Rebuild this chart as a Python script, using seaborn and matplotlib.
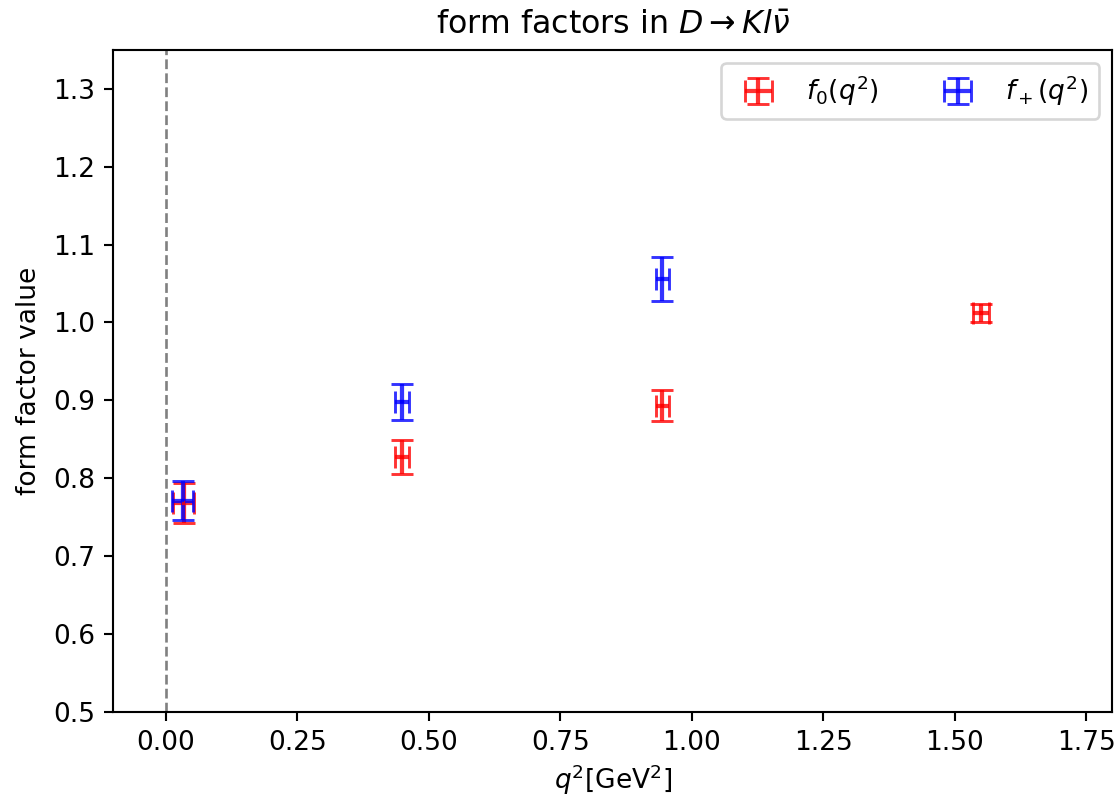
import matplotlib
matplotlib.use("Agg")
import matplotlib.pyplot as plt
import seaborn as sns
import pandas as pd

# scalar form factor f0(q^2)
q2_f0 = [0.034, 0.449, 0.944, 1.551]
q2_f0_err = [0.020, 0.013, 0.012, 0.015]
f0_val = [0.768, 0.827, 0.893, 1.012]
f0_err = [0.026, 0.022, 0.020, 0.012]

# vector form factor f+(q^2)
q2_fp = [0.032, 0.449, 0.944]
q2_fp_err = [0.020, 0.013, 0.012]
fp_val = [0.771, 0.898, 1.056]
fp_err = [0.025, 0.023, 0.028]

labels = [r"$f_0(q^2)$", r"$f_+(q^2)$"]
colors = ["red", "blue"]

sns.set_style("ticks", rc={
    "axes.edgecolor": "black", "text.color": "black",
    "xtick.color": "black", "ytick.color": "black",
    "axes.labelcolor": "black", "axes.grid": False,
})
plt.rcParams["font.family"] = ["DejaVu Sans"]
plt.rcParams["font.size"] = 10

df = pd.concat([
    pd.DataFrame({"q2": q2_f0, "q2err": q2_f0_err, "val": f0_val, "err": f0_err, "ff": labels[0]}),
    pd.DataFrame({"q2": q2_fp, "q2err": q2_fp_err, "val": fp_val, "err": fp_err, "ff": labels[1]}),
], ignore_index=True)

dpi = 190
fig = plt.figure(figsize=(1117 / dpi, 797 / dpi), dpi=dpi)
ax = fig.add_axes([0.1014, 0.107, 0.8944, 0.8303])

ax.axvline(0.0, color="gray", linestyle="--", linewidth=1.0, zorder=1)

for lab, col in zip(labels, colors):
    sub = df[df["ff"] == lab]
    ax.errorbar(sub["q2"], sub["val"], xerr=sub["q2err"], yerr=sub["err"],
                fmt="none", ecolor=col, elinewidth=1.6, capsize=4, capthick=1.1,
                alpha=0.8, label=lab, zorder=3)

sns.scatterplot(data=df, x="q2", y="val", hue="ff", palette=colors, s=1.5,
                marker="s", edgecolor=None, alpha=0.8, legend=False, ax=ax, zorder=4)

ax.set_xlim(-0.1, 1.8)
ax.set_ylim(0.5, 1.35)
ax.set_xticks([0.0, 0.25, 0.5, 0.75, 1.0, 1.25, 1.5, 1.75])
ax.set_yticks([0.5, 0.6, 0.7, 0.8, 0.9, 1.0, 1.1, 1.2, 1.3])
ax.xaxis.set_major_formatter(matplotlib.ticker.FormatStrFormatter("%.2f"))
ax.yaxis.set_major_formatter(matplotlib.ticker.FormatStrFormatter("%.1f"))
ax.tick_params(direction="out", length=3.5, width=0.8, labelsize=10)
for s in ax.spines.values():
    s.set_visible(True)
    s.set_linewidth(0.8)

ax.set_xlabel(r"$q^2$[GeV$^2$]", fontsize=10, labelpad=2.5)
ax.set_ylabel("form factor value", fontsize=10)
ax.set_title(r"form factors in $D\to Kl\bar{\nu}$", fontsize=12)
ax.legend(loc="upper right", ncol=2, frameon=True, fontsize=10)

fig.savefig("out.png", dpi=dpi)
